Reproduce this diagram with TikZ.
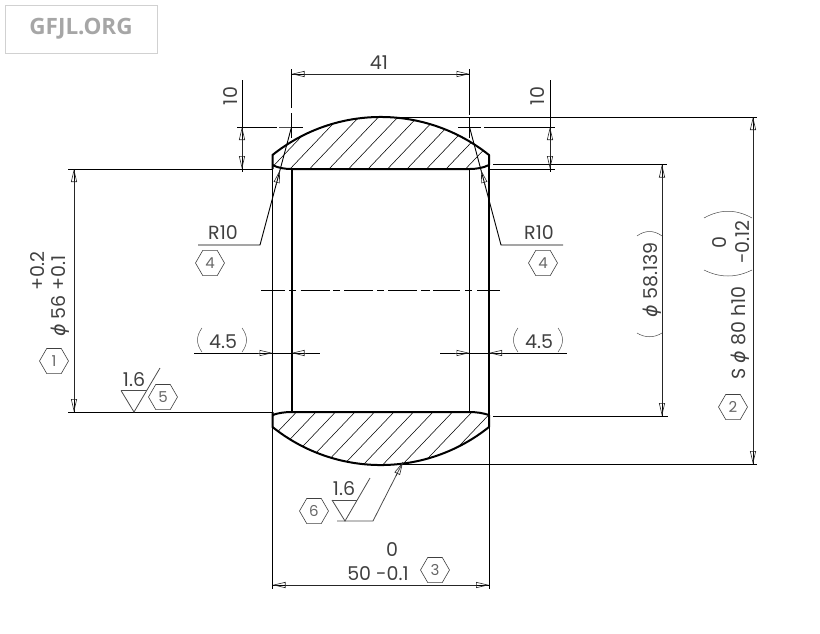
\documentclass[tikz,border=0pt]{standalone}
\usepackage{fontspec}
\setmainfont{Poppins}
\newfontfamily\wmfont{Open Sans}
\newfontfamily\phifont{DejaVu Sans}
\usetikzlibrary{arrows.meta,shapes.geometric}
\newcommand{\dia}{{\phifont\itshape ϕ}}
\definecolor{txt}{gray}{0.25}
\tikzset{
  x=1pt,y=-1pt,
  ln/.style={line width=0.9pt,black},
  thinln/.style={line width=0.5pt,black!70},
  outline/.style={line width=2pt,black,line join=round},
  bore/.style={line width=1.4pt,black},
  hatchln/.style={line width=0.55pt,black},
  tipstyle/.style={line width=0.6pt,black!85,{Triangle[open,length=13pt,width=6pt]}-{Triangle[open,length=13pt,width=6pt]}},
  tipend/.style={line width=0.6pt,black!85,-{Triangle[open,length=13pt,width=6pt]}},
  lbl/.style={font=\fontsize{19}{19}\selectfont,text=txt,inner sep=0pt},
  hexa/.style={draw=black!75,line width=0.6pt,regular polygon,regular polygon sides=6,minimum size=29pt,inner sep=0pt,font=\fontsize{15}{15}\selectfont,text=black!60},
}
\begin{document}
\begin{tikzpicture}
\useasboundingbox (0,0) rectangle (820,633);
% watermark
\draw[black!18,line width=1pt] (5.5,5.5) rectangle (157,53);
\node[font=\wmfont\bfseries\fontsize{22.5}{22.5}\selectfont,text=black!35,inner sep=0pt] (wm) at (81,29) {GFJL.ORG};
% hatching
\begin{scope}
\clip (272.5,155) .. controls (335.8,104.3) and (425.7,104.3) .. (489,155) -- (489,165) .. controls (483,168) and (476,169) .. (469.5,169) -- (291.5,169) .. controls (285,169) and (278,168) .. (272.5,165) -- cycle;
\foreach \k in {-1,...,10} { \draw[hatchln] ({290+19.5*\k},169) -- ++(60,-63); }
\end{scope}
\begin{scope}
\clip (272.5,427) .. controls (335.8,477.7) and (425.7,477.7) .. (489,427) -- (489,415) .. controls (483,413) and (476,412) .. (469.5,412) -- (291.5,412) .. controls (285,412) and (278,413) .. (272.5,415) -- cycle;
\foreach \k in {0,...,13} { \draw[hatchln] ({277+19.5*\k},412) -- ++(-60,63); }
\end{scope}
% extension lines
\draw[ln] (68,169) -- (272.5,169);
\draw[ln] (68,412) -- (272.5,412);
\draw[ln] (381,117) -- (757,117);
\draw[ln] (400,464) -- (757,464);
\draw[ln] (237,127) -- (277,127);
\draw[thinln] (279,127) -- (291,127);
\draw[ln] (292,127) -- (303,127);
\draw[ln] (458,127) -- (481,127);
\draw[ln] (484,127) -- (555,127);
\draw[ln] (489,169) -- (555,169);
\draw[ln] (493,164.5) -- (667,164.5);
\draw[ln] (493,416) -- (668,416);
\draw[ln] (242,80) -- (242,172);
\draw[ln] (550,80) -- (550,172);
\draw[ln] (291.5,69) -- (291.5,108);
\draw[ln] (291.5,113) -- (291.5,138);
\draw[ln] (469.5,69) -- (469.5,115);
\draw[ln] (469.5,118) -- (469.5,138);
\draw[ln] (272.5,427) -- (272.5,589);
\draw[ln] (489,427) -- (489,589);
% body
\draw[outline] (272.5,169) -- (272.5,155) .. controls (335.8,104.3) and (425.7,104.3) .. (489,155) -- (489,165) .. controls (483,168) and (476,169) .. (469.5,169) -- (291.5,169) .. controls (285,169) and (278,168) .. (272.5,165);
\draw[outline] (272.5,412) -- (272.5,427) .. controls (335.8,477.7) and (425.7,477.7) .. (489,427) -- (489,415) .. controls (483,413) and (476,412) .. (469.5,412) -- (291.5,412) .. controls (285,412) and (278,413) .. (272.5,415);
\draw[bore] (272.5,169) -- (272.5,412);
\draw[bore] (469.5,169) -- (469.5,412);
\draw[outline] (291.5,169) -- (291.5,412);
\draw[outline] (489,165) -- (489,415);
% centre line
\draw[ln] (261,290) -- (285,290);
\draw[ln] (289,290) -- (296,290);
\draw[ln] (300.5,290) -- (330,290);
\draw[ln] (333,290) -- (340,290);
\draw[ln] (344,290) -- (373,290);
\draw[ln] (377,290) -- (384,290);
\draw[ln] (388,290) -- (417,290);
\draw[ln] (421,290) -- (430,290);
\draw[ln] (433,290) -- (460,290);
\draw[ln] (465,290) -- (472,290);
\draw[ln] (477,290) -- (500,290);
% dimension lines
\draw[ln] (74,169) -- (74,412);
\draw[tipstyle] (74,169) -- (74,412);
\draw[ln] (291.5,74) -- (469.5,74);
\draw[tipstyle] (291.5,74) -- (469.5,74);
\draw[tipstyle] (242,127) -- (242,169);
\draw[tipstyle] (550,127) -- (550,169);
\draw[ln] (662,164.5) -- (662,416);
\draw[tipstyle] (662,164.5) -- (662,416);
\draw[ln] (753,117) -- (753,464);
\draw[tipstyle] (753,117) -- (753,464);
\draw[ln] (272.5,585) -- (489,585);
\draw[tipstyle] (272.5,585) -- (489,585);
\draw[ln] (194,353) -- (320,353);
\draw[tipend] (258,353) -- (272.5,353);
\draw[tipend] (306,353) -- (291.5,353);
\draw[ln] (440,353) -- (567,353);
\draw[tipend] (455,353) -- (469.5,353);
\draw[tipend] (503,353) -- (489,353);
% R10 leaders
\draw[ln] (198,245) -- (260,245) -- (291.5,127);
\draw[tipend] (276,185) -- (280,170);
\draw[ln] (563,245) -- (501,245) -- (469.5,127);
\draw[tipend] (485,185) -- (481,170);
% surface finish 5
\draw[thinln,line width=0.8pt] (121,390.5) -- (147,390.5);
\draw[thinln,line width=0.8pt] (121,390.5) -- (134,412) -- (160,368);
\node[lbl] (sf5) at (134,380) {1.6};
% surface finish 6
\draw[thinln,line width=0.8pt] (332,500) -- (357,500);
\draw[thinln,line width=0.8pt] (332,500) -- (345,521) -- (370,478);
\draw[thinln,line width=0.8pt] (337,521) -- (373,521) -- (403,462);
\draw[tipend] (396,476) -- (403,462);
\node[lbl] (sf6) at (344,489) {1.6};
% hexagons
\node[hexa] (h1) at (54,361) {1};
\node[hexa] (h2) at (733,407) {2};
\node[hexa] (h3) at (435,570) {3};
\node[hexa] (h4a) at (210,263) {4};
\node[hexa] (h4b) at (543,263) {4};
\node[hexa] (h5) at (163,397) {5};
\node[hexa] (h6) at (314,511) {6};
% labels
\node[lbl] (d41) at (379,63) {41};
\node[lbl,rotate=90] (d10a) at (231,96) {10};
\node[lbl,rotate=90] (d10b) at (538,96) {10};
\node[lbl] (r1) at (223,233) {R10};
\node[lbl] (r2) at (539,233) {R10};
\node[lbl] (t1) at (223,342) {4.5};
\node[lbl] (t2) at (539,342) {4.5};
\node[lbl,rotate=90] (d56) at (60,296) {\dia\ 56 +0.1};
\node[lbl,rotate=90] (d56b) at (38,271) {+0.2};
\node[lbl,rotate=90] (d58) at (652,280) {\dia\ 58.139};
\node[lbl,rotate=90] (d80) at (740,333) {S \dia\ 80 h10};
\node[lbl,rotate=90] (d80a) at (720,243) {0};
\node[lbl,rotate=90] (d80b) at (743,242) {-0.12};
\node[lbl] (b0) at (392,550) {0};
\node[lbl] (b50) at (378,574) {50 -0.1};
% parentheses
\draw[thinln] (202,328) .. controls (196,336) and (196,344) .. (202,352);
\draw[thinln] (242,328) .. controls (248,336) and (248,344) .. (242,352);
\draw[thinln] (518,328) .. controls (512,336) and (512,344) .. (518,352);
\draw[thinln] (558,328) .. controls (564,336) and (564,344) .. (558,352);
\draw[thinln] (637,236) .. controls (645,230) and (654,230) .. (662,236);
\draw[thinln] (637,333) .. controls (645,338) and (654,338) .. (662,333);
\draw[thinln] (704,218) .. controls (720,209) and (736,209) .. (752,218);
\draw[thinln] (704,270) .. controls (720,278) and (736,278) .. (752,270);
\end{tikzpicture}
\end{document}
